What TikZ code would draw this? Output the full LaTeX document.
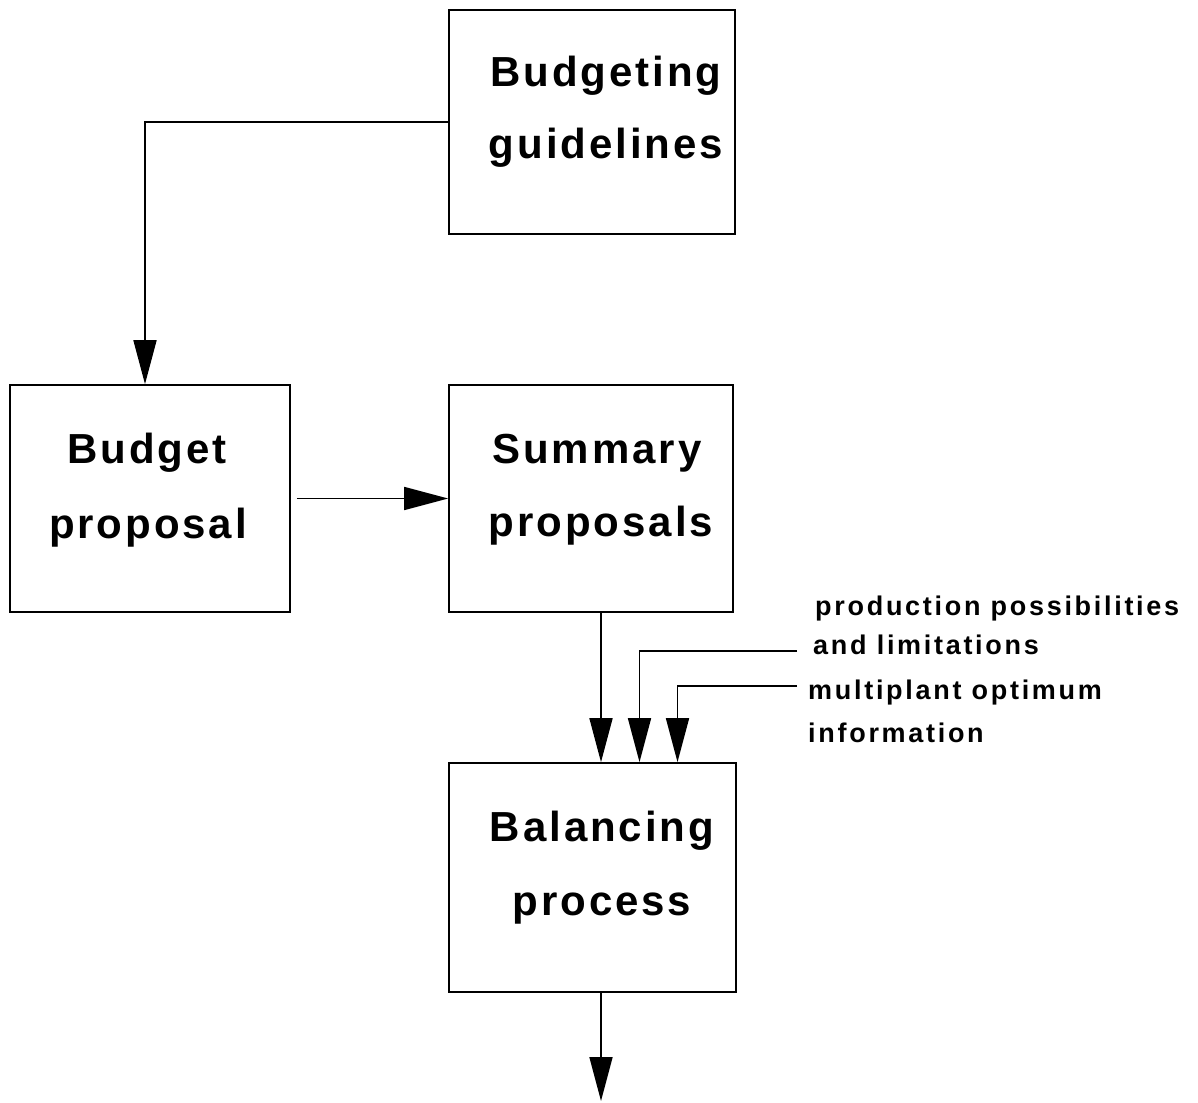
\documentclass[tikz,border=0pt]{standalone}
\usepackage{fontspec}
\setmainfont{Liberation Sans}
\newfontfamily\bigfont[LetterSpace=7]{Liberation Sans}
\newfontfamily\smallfont[LetterSpace=10]{Liberation Sans}
\usetikzlibrary{arrows.meta}
\tikzset{
  box/.style={draw, line width=1.7pt, inner sep=0pt},
  lbl/.style={inner sep=0pt, anchor=base, font=\bigfont\bfseries\fontsize{42}{50}\selectfont},
  note/.style={inner sep=0pt, anchor=base west, font=\smallfont\bfseries\fontsize{27}{32}\selectfont},
  arr/.style={line width=1.7pt, -{Triangle[length=44pt,width=23pt]}}
}
\begin{document}
\begin{tikzpicture}[x=1pt,y=-1pt]
\useasboundingbox[fill=white] (0,0) rectangle (1198,1102);
% boxes
\node[box, minimum width=286pt, minimum height=224pt] (guide) at (592,122) {};
\node[box, minimum width=280pt, minimum height=227pt] (proposal) at (150,498.5) {};
\node[box, minimum width=284pt, minimum height=227pt] (summary) at (591,498.5) {};
\node[box, minimum width=287pt, minimum height=229pt] (balance) at (592.5,877.5) {};
% box texts
\node[lbl] (guideA) at (606,87) {Budgeting};
\node[lbl] (guideB) at (606,159) {guidelines};
\node[lbl] (propA) at (147,463) {Budget};
\node[lbl] (propB) at (148,538) {proposal};
\node[lbl] (sumA) at (597,463) {Summary};
\node[lbl] (sumB) at (601,536) {proposals};
\node[lbl] (balA) at (602,841) {Balancing};
\node[lbl] (balB) at (602,915) {process};
% side notes
\node[note] (n1) at (815,615) {production possibilities};
\node[note] (n2) at (813,654) {and limitations};
\node[note] (n3) at (808,699) {multiplant optimum};
\node[note] (n4) at (808,742) {information};
% free ends
\coordinate (in1) at (797,651);
\coordinate (in2) at (797,686);
\coordinate (out) at (601,1101);
% connectors
\draw[arr] (guide.west) -| ([xshift=-5pt]proposal.north);
\draw[arr] ([xshift=6pt]proposal.east) -- (summary.west);
\draw[arr] ([xshift=10pt]summary.south) -- ([xshift=8.5pt]balance.north);
\draw[arr] (in1) -| ([xshift=47pt]balance.north);
\draw[arr] (in2) -| ([xshift=85pt]balance.north);
\draw[arr] ([xshift=8.5pt]balance.south) -- (out);
\end{tikzpicture}
\end{document}
